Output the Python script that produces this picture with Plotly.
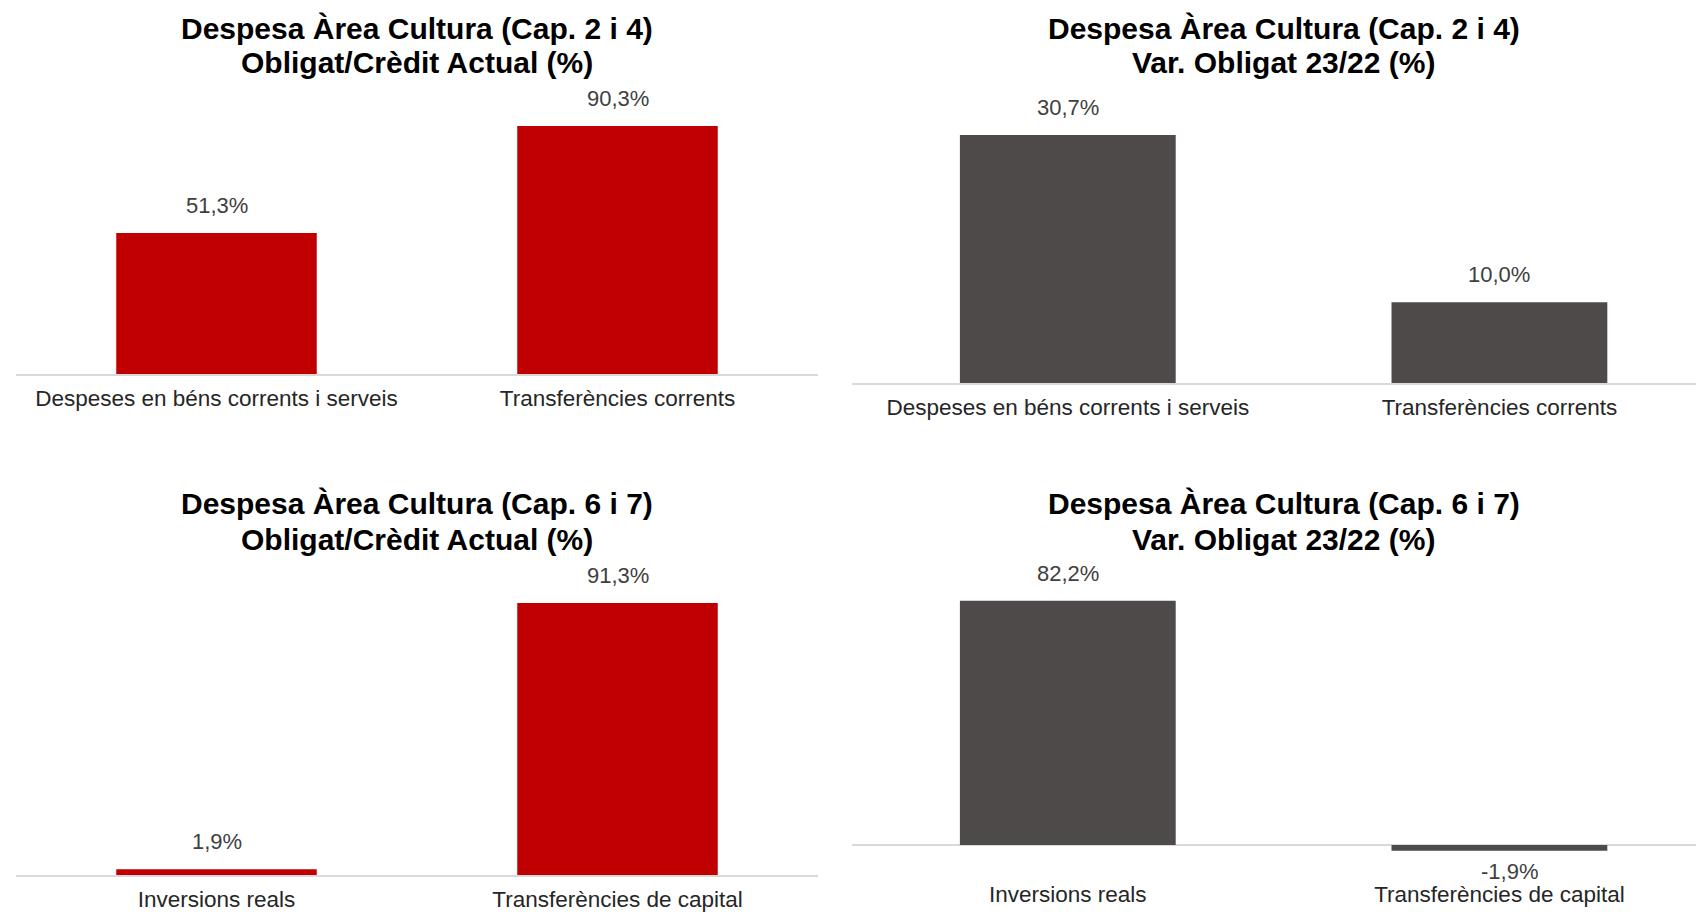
import plotly.graph_objects as go

# ---------------- data ----------------
cats_top = ["Despeses en béns corrents i serveis", "Transferències corrents"]
cats_bottom = ["Inversions reals", "Transferències de capital"]

title_tl = ["Despesa Àrea Cultura (Cap. 2 i 4)", "Obligat/Crèdit Actual (%)"]
title_tr = ["Despesa Àrea Cultura (Cap. 2 i 4)", "Var. Obligat 23/22 (%)"]
title_bl = ["Despesa Àrea Cultura (Cap. 6 i 7)", "Obligat/Crèdit Actual (%)"]
title_br = ["Despesa Àrea Cultura (Cap. 6 i 7)", "Var. Obligat 23/22 (%)"]

vals_tl = [51.3, 90.3]
vals_tr = [30.7, 10.0]
vals_bl = [1.9, 91.3]
vals_br = [82.2, -1.9]

RED = "#C00000"
GREY = "#4E4A49"
AXIS = "#D9D9D9"
FONT = "Liberation Sans, Arial, sans-serif"


def fmt(v):
    return f"{v:.1f}".replace(".", ",") + "%"


# the page body has an 8 px margin; figure sized to fill the rest of the window
OFF = 8
W, H = 1704 - OFF, 912 - OFF


def px_(x):
    return (x - OFF) / W


def py(y):
    return 1 - (y - OFF) / H


panels = [
    # cats, vals, color, title, xdomain px, (ybottom px, ytop px), yrange, xrange, title line centres y px
    (cats_top, vals_tl, RED, title_tl, (16, 818), (374, 80), [0, 107.06], [-0.5, 1.5], (28, 62)),
    (cats_top, vals_tr, GREY, title_tr, (852, 1704), (383, 80), [0, 37.5], [-0.5, 1.474], (28, 62)),
    (cats_bottom, vals_bl, RED, title_bl, (16, 818), (875, 560), [0, 105.7], [-0.5, 1.5], (504, 539)),
    (cats_bottom, vals_br, GREY, title_br, (852, 1704), (875, 560), [-10.1, 95.96], [-0.5, 1.474], (504, 539)),
]

fig = go.Figure()
annotations = []

for i, (cats, vals, color, title, xd, yd, yr, xr, tys) in enumerate(panels, start=1):
    xa = "x" if i == 1 else f"x{i}"
    ya = "y" if i == 1 else f"y{i}"
    fig.add_trace(go.Bar(
        x=cats, y=vals, marker=dict(color=color, line=dict(width=0)),
        xaxis=xa, yaxis=ya, showlegend=False, width=0.5,
        hoverinfo="x+y",
    ))
    xkey = "xaxis" if i == 1 else f"xaxis{i}"
    ykey = "yaxis" if i == 1 else f"yaxis{i}"
    has_neg = min(vals) < 0
    fig.update_layout(**{
        xkey: dict(
            domain=[max(0, px_(xd[0])), min(1, px_(xd[1]))], anchor=ya, range=xr,
            showline=not has_neg, linecolor=AXIS, linewidth=2,
            showgrid=False, zeroline=False, ticks="", ticklabelstandoff=3,
            tickfont=dict(family=FONT, size=22.5, color="#262626"),
            fixedrange=True, automargin=False,
        ),
        ykey: dict(
            domain=[py(yd[0]), py(yd[1])], anchor=xa, range=yr,
            showgrid=False, showticklabels=False, showline=False,
            zeroline=has_neg, zerolinecolor=AXIS, zerolinewidth=2,
            fixedrange=True, automargin=False,
        ),
    })
    # value labels
    for c, v in zip(cats, vals):
        annotations.append(dict(
            x=c, y=v, xref=xa, yref=ya, text=fmt(v), showarrow=False,
            yanchor="bottom" if v >= 0 else "top",
            yshift=13 if v >= 0 else -6,
            xshift=0 if v >= 0 else 10,
            font=dict(family=FONT, size=22, color="#404040"),
        ))
    # panel title centred on the full category band (may extend past the panel edge)
    unit_px = (xd[1] - xd[0]) / (xr[1] - xr[0])
    band_center = xd[0] + unit_px * (0.5 - xr[0])
    for line, ty in zip(title, tys):
        annotations.append(dict(
            x=px_(band_center), y=py(ty), xref="paper", yref="paper",
            text=f"<b>{line}</b>", showarrow=False, xanchor="center", yanchor="middle",
            font=dict(family=FONT, size=30, color="black"),
        ))

fig.update_layout(
    width=W, height=H,
    margin=dict(l=0, r=0, t=0, b=0, autoexpand=False),
    paper_bgcolor="white", plot_bgcolor="white",
    bargap=0.5,
    annotations=annotations,
    font=dict(family=FONT),
)

fig.write_html("out.html")
